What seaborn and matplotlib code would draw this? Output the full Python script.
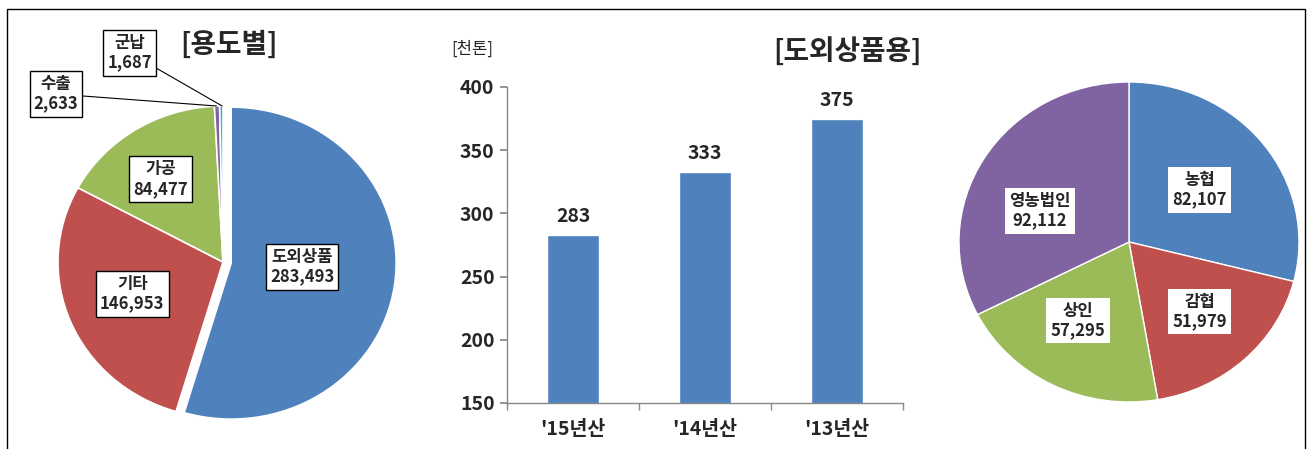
import matplotlib
matplotlib.use("Agg")
import matplotlib.pyplot as plt
import seaborn as sns
import pandas as pd

# left pie: usage
use_labels = ["도외상품", "기타", "가공", "수출", "군납"]
use_values = [283493, 146953, 84477, 2633, 1687]
use_colors = ["#4F81BD", "#C0504D", "#9BBB59", "#8064A2", "#4BACC6"]

# middle bars: off-island goods by crop year (thousand tons)
years = ["'15년산", "'14년산", "'13년산"]
tons = [283, 333, 375]

# right pie: off-island goods by shipper
ship_labels = ["농협", "감협", "상인", "영농법인"]
ship_values = [82107, 51979, 57295, 92112]
ship_colors = ["#4F81BD", "#C0504D", "#9BBB59", "#8064A2"]

sns.set_theme(style="white")
plt.rcParams["font.family"] = ["Noto Sans CJK KR", "DejaVu Sans"]

W, H = 1308, 449
fig = plt.figure(figsize=(W / 100, H / 100), dpi=100)
fig.patch.set_facecolor("white")


def pie_axes(cx, cy, rx, ry, lim):
    # radius 1 in data -> rx px horizontally, ry px vertically (source image is slightly squashed)
    hx, hy = rx * lim, ry * lim
    ax = fig.add_axes([(cx - hx) / W, (H - cy - hy) / H, 2 * hx / W, 2 * hy / H])
    ax.set_xlim(-lim, lim)
    ax.set_ylim(-lim, lim)
    ax.set_aspect("auto")
    ax.axis("off")
    return ax


def fmt(v):
    return f"{v:,}"


# ---------- left pie ----------
lim = 1.45
ax1 = pie_axes(223, 262, 165, 156, lim)
ax1.pie(use_values, colors=use_colors, startangle=90, counterclock=False,
        explode=[0.05, 0, 0, 0, 0],
        wedgeprops=dict(edgecolor="white", linewidth=1.2))
ax1.set_xlim(-lim, lim)
ax1.set_ylim(-lim, lim)
ax1.set_aspect("auto")

box = dict(boxstyle="square,pad=0.25", fc="white", ec="black", lw=1)
inside_pos = [(0.48, -0.03), (-0.55, -0.205), (-0.376, 0.532)]
for lab, val, (x, y) in zip(use_labels[:3], use_values[:3], inside_pos):
    ax1.text(x, y, f"{lab}\n{fmt(val)}", ha="center", va="center", fontsize=12,
             fontweight="bold", linespacing=1.1, bbox=box)

ax1.annotate(f"{use_labels[3]}\n{fmt(use_values[3])}", xy=(-0.04, 1.0), xytext=(-1.012, 1.077),
             ha="center", va="center", fontsize=12, fontweight="bold", linespacing=1.1,
             bbox=box, annotation_clip=False,
             arrowprops=dict(arrowstyle="-", color="black", lw=0.8, shrinkA=0, shrinkB=0))
ax1.annotate(f"{use_labels[4]}\n{fmt(use_values[4])}", xy=(-0.005, 1.0), xytext=(-0.564, 1.34),
             ha="center", va="center", fontsize=12, fontweight="bold", linespacing=1.1,
             bbox=box, annotation_clip=False,
             arrowprops=dict(arrowstyle="-", color="black", lw=0.8, shrinkA=0, shrinkB=0))
fig.text(229 / W, 1 - 45 / H, "[용도별]", ha="center", va="center", fontsize=20, fontweight="bold")

# ---------- middle bars ----------
ax2 = fig.add_axes([507 / W, (H - 403) / H, 396 / W, 316 / H])
df = pd.DataFrame({"year": years, "tons": tons})
sns.barplot(data=df, x="year", y="tons", color="#4F81BD", saturation=1, width=0.39, ax=ax2)
ax2.set_xlim(-0.5, 2.5)
ax2.set_ylim(150, 400)
ax2.set_yticks(range(150, 401, 50))
ax2.set_xlabel("")
ax2.set_ylabel("")
for s in ["top", "right"]:
    ax2.spines[s].set_visible(False)
for s in ["left", "bottom"]:
    ax2.spines[s].set_color("#888888")
    ax2.spines[s].set_linewidth(1)
ax2.set_xticks([-0.5, 0.5, 1.5, 2.5], minor=True)
ax2.tick_params(axis="x", which="major", length=0, pad=12, labelsize=14)
ax2.tick_params(axis="x", which="minor", length=5, color="#888888", direction="out", bottom=True)
ax2.tick_params(axis="y", length=5, color="#888888", direction="out", left=True, labelsize=14, pad=4)
for lbl in ax2.get_xticklabels() + ax2.get_yticklabels():
    lbl.set_fontweight("bold")
for i, v in enumerate(tons):
    ax2.text(i, v + 7, str(v), ha="center", va="bottom", fontsize=14, fontweight="bold")
fig.text(472 / W, 1 - 49 / H, "[천톤]", ha="center", va="center", fontsize=12)
fig.text(848 / W, 1 - 51 / H, "[도외상품용]", ha="center", va="center", fontsize=20, fontweight="bold")

# ---------- right pie ----------
lim3 = 1.2
ax3 = pie_axes(1129, 242, 170, 160, lim3)
ax3.pie(ship_values, colors=ship_colors, startangle=90, counterclock=False,
        wedgeprops=dict(edgecolor="white", linewidth=1))
ax3.set_xlim(-lim3, lim3)
ax3.set_ylim(-lim3, lim3)
ax3.set_aspect("auto")
box3 = dict(boxstyle="square,pad=0.25", fc="white", ec="none")
ship_pos = [(0.415, 0.325), (0.415, -0.434), (-0.3, -0.49), (-0.524, 0.194)]
for lab, val, (x, y) in zip(ship_labels, ship_values, ship_pos):
    ax3.text(x, y, f"{lab}\n{fmt(val)}", ha="center", va="center", fontsize=12,
             fontweight="bold", linespacing=1.1, bbox=box3)

# outer frame (open at the bottom)
fig.add_artist(plt.Rectangle((7 / W, -0.1), (1305 - 7) / W, 1.1 - 9 / H,
                             transform=fig.transFigure, fill=False, ec="black", lw=1))

fig.savefig("out.png", dpi=100)
